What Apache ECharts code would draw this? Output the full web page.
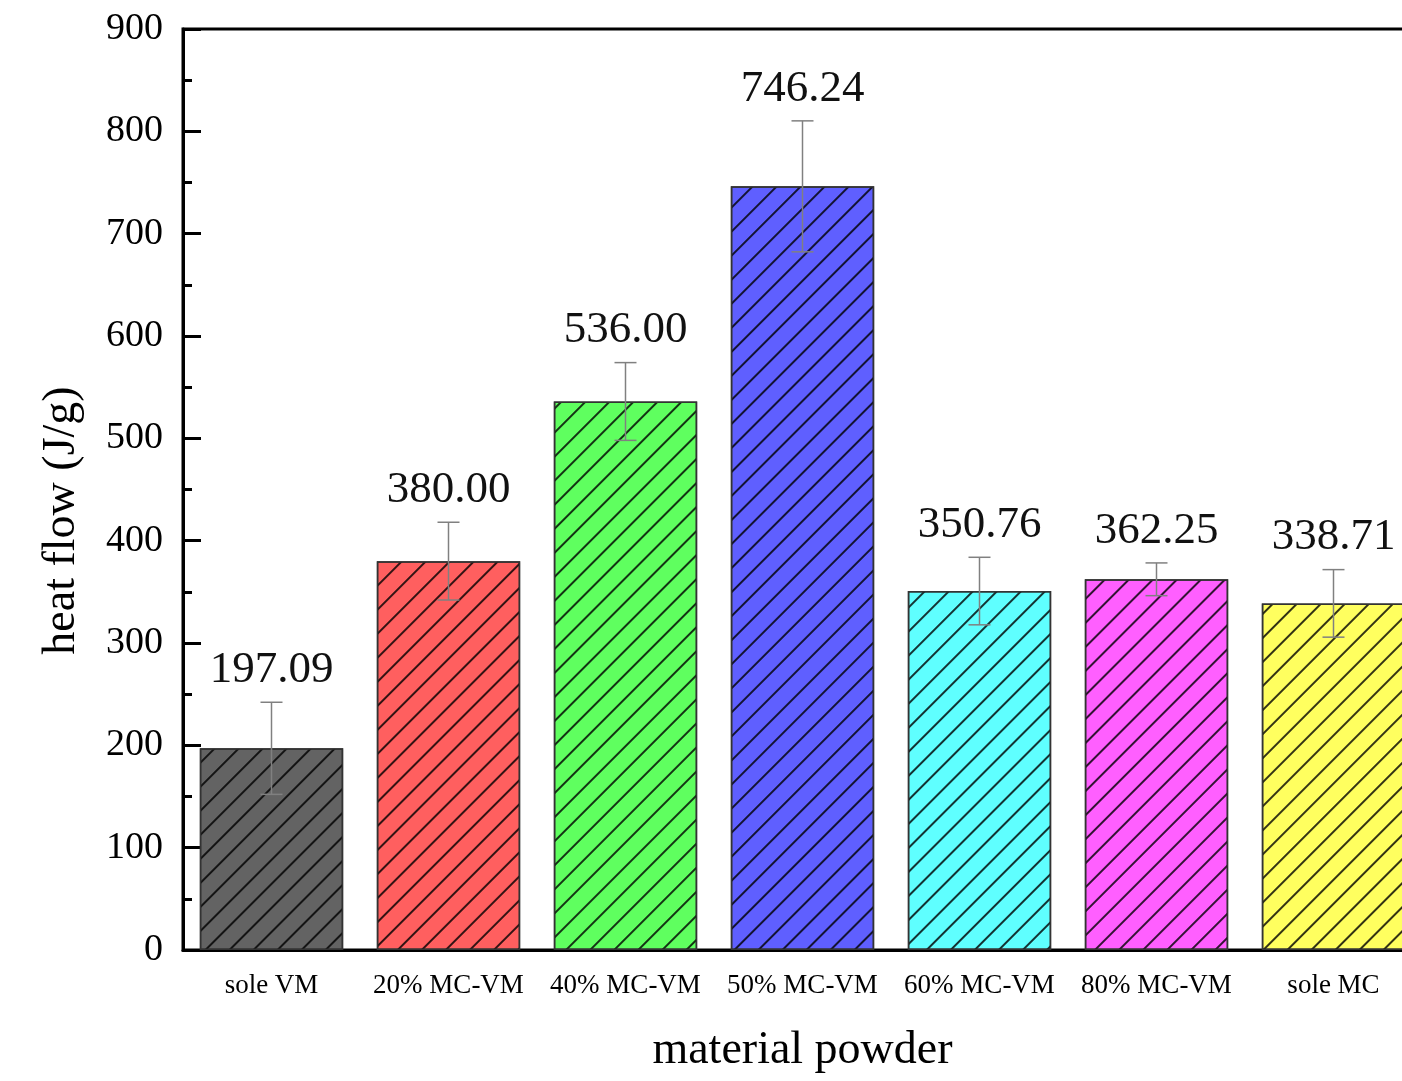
<!DOCTYPE html>
<html>
<head>
<meta charset="utf-8">
<script src="https://cdn.jsdelivr.net/npm/echarts@6/dist/echarts.min.js"></script>
<style>
  html, body { margin: 0; padding: 0; background: #fff; }
  #chart { width: 1402px; height: 1081px; }
</style>
</head>
<body>
<div id="chart"></div>
<script>
// categories and values
var categories = ["sole VM", "20% MC-VM", "40% MC-VM", "50% MC-VM", "60% MC-VM", "80% MC-VM", "sole MC"];
var heatFlow = [197.09, 380.00, 536.00, 746.24, 350.76, 362.25, 338.71];
var errors = [45, 38, 38, 64, 33, 16, 33];
var barColors = ["#636363", "#ff5f5f", "#5fff5f", "#5f5fff", "#5fffff", "#ff5fff", "#ffff5f"];
var yTicks = [0, 100, 200, 300, 400, 500, 600, 700, 800, 900];

var font = "Liberation Serif";
var chart = echarts.init(document.getElementById("chart"));

var hatch = {
  symbol: "rect",
  color: "rgba(0,0,0,0.8)",
  dashArrayX: [1, 0],
  dashArrayY: [2, 15],
  rotation: -Math.PI / 4
};

var barData = heatFlow.map(function (v, i) {
  return {
    value: v,
    itemStyle: { color: barColors[i], decal: hatch }
  };
});

var errData = heatFlow.map(function (v, i) {
  return [i, v, errors[i]];
});

chart.setOption({
  animation: false,
  backgroundColor: "#fff",
  grid: {
    left: 183,
    top: 29,
    width: 1239,
    height: 921,
    outerBoundsMode: "none",
    containLabel: false,
    show: true,
    borderColor: "#000",
    borderWidth: 3,
    backgroundColor: "transparent"
  },
  xAxis: {
    type: "category",
    data: categories,
    name: "material powder",
    nameLocation: "middle",
    nameGap: 78,
    nameTextStyle: { fontFamily: font, fontSize: 46, color: "#000" },
    axisLine: { lineStyle: { color: "#000", width: 3 } },
    axisTick: { show: false },
    axisLabel: { interval: 0, fontFamily: font, fontSize: 27, color: "#000", margin: 22 }
  },
  yAxis: {
    type: "value",
    min: 0,
    max: 900,
    interval: 100,
    name: "heat flow (J/g)",
    nameLocation: "middle",
    nameGap: 98,
    nameTextStyle: { fontFamily: font, fontSize: 46, color: "#000", padding: [0, 62, 0, 0] },
    axisLine: { show: true, lineStyle: { color: "#000", width: 3 } },
    axisTick: { show: true, inside: true, length: 18, lineStyle: { color: "#000", width: 3 } },
    minorTick: { show: true, splitNumber: 2, length: 9, lineStyle: { color: "#000", width: 3 } },
    splitLine: { show: false },
    axisLabel: {
      fontFamily: font, fontSize: 38, color: "#000", margin: 20,
      formatter: function (v) { return yTicks.indexOf(v) >= 0 ? String(v) : ""; }
    }
  },
  series: [
    {
      type: "bar",
      data: barData,
      barWidth: "81%",
      itemStyle: { borderColor: "#333", borderWidth: 1.5 }
    },
    {
      type: "custom",
      data: errData,
      z: 5,
      renderItem: function (params, api) {
        var x = api.value(0);
        var v = api.value(1);
        var e = api.value(2);
        var hi = api.coord([x, v + e]);
        var lo = api.coord([x, v - e]);
        var cap = 11;
        var st = { stroke: "#808080", lineWidth: 1.5 };
        return {
          type: "group",
          children: [
            { type: "line", shape: { x1: hi[0], y1: hi[1], x2: lo[0], y2: lo[1] }, style: st },
            { type: "line", shape: { x1: hi[0] - cap, y1: hi[1], x2: hi[0] + cap, y2: hi[1] }, style: st },
            { type: "line", shape: { x1: lo[0] - cap, y1: lo[1], x2: lo[0] + cap, y2: lo[1] }, style: st },
            {
              type: "text",
              x: hi[0],
              y: hi[1] - 32,
              style: {
                text: v.toFixed(2),
                fontFamily: font,
                fontSize: 45,
                fill: "#111",
                align: "center",
                verticalAlign: "middle"
              }
            }
          ]
        };
      }
    }
  ]
});
</script>
</body>
</html>
